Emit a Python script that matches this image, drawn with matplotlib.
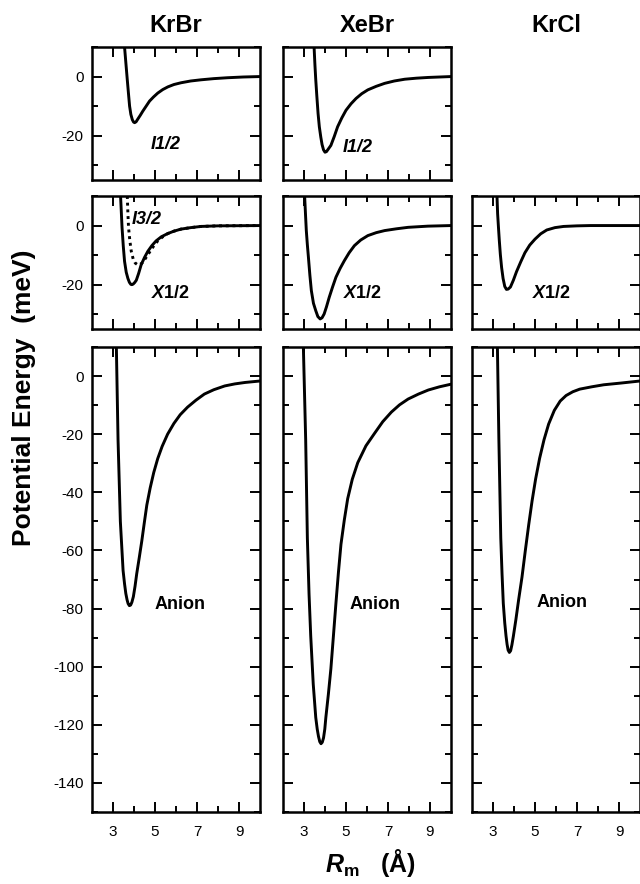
import numpy as np
import matplotlib.pyplot as plt
from matplotlib.ticker import MultipleLocator, FixedLocator

plt.rcParams['font.family'] = ['Liberation Sans', 'DejaVu Sans']
plt.rcParams['axes.unicode_minus'] = False
plt.rcParams['mathtext.fontset'] = 'custom'
plt.rcParams['mathtext.it'] = 'Liberation Sans:italic:bold'
plt.rcParams['mathtext.rm'] = 'Liberation Sans:bold'

# potential curves: R in Angstrom, V in meV
krbr_i12_r = [3.55, 3.62, 3.68, 3.74, 3.79, 3.85, 3.92, 3.98, 4.03, 4.10, 4.18, 4.30, 4.42, 4.58,
              4.74, 4.93, 5.13, 5.37, 5.61, 5.90, 6.24, 6.70, 7.19, 7.80, 8.45, 9.20, 10.0]
krbr_i12_v = [10.0, 4.0, -1.1, -6.0, -10.0, -12.8, -14.6, -15.4, -15.6, -15.3, -14.4, -13.1, -11.7, -10.0,
              -8.3, -6.9, -5.6, -4.4, -3.5, -2.7, -2.1, -1.5, -1.1, -0.7, -0.4, -0.15, 0.0]

xebr_i12_r = [3.48, 3.52, 3.56, 3.61, 3.67, 3.73, 3.80, 3.86, 3.93, 4.00, 4.07, 4.15, 4.28, 4.44,
              4.60, 4.80, 5.00, 5.24, 5.48, 5.75, 6.04, 6.44, 6.84, 7.30, 7.80, 8.35, 8.92, 10.0]
xebr_i12_v = [10.0, 4.0, -1.1, -6.5, -12.5, -17.0, -20.5, -23.0, -24.8, -25.6, -25.4, -24.6, -23.3, -20.3,
              -17.0, -14.0, -11.4, -9.2, -7.4, -5.8, -4.5, -3.3, -2.3, -1.5, -0.9, -0.55, -0.3, 0.0]

krbr_x12_r = [3.36, 3.40, 3.43, 3.49, 3.55, 3.63, 3.71, 3.78, 3.85, 3.90, 3.96, 4.03, 4.11, 4.22,
              4.34, 4.50, 4.66, 4.85, 5.05, 5.30, 5.61, 5.90, 6.24, 6.70, 7.19, 8.00, 10.0]
krbr_x12_v = [10.0, 4.0, -0.6, -7.0, -12.1, -15.8, -17.9, -19.2, -19.9, -20.0, -19.8, -19.3, -18.5, -16.2,
              -13.3, -10.8, -8.7, -6.8, -5.2, -3.8, -2.7, -1.9, -1.2, -0.7, -0.3, -0.1, 0.0]

krbr_i32_r = [3.68, 3.71, 3.74, 3.80, 3.87, 3.96, 4.06, 4.16, 4.26, 4.38, 4.50, 4.66, 4.82, 4.97,
              5.13, 5.35, 5.61, 5.90, 6.24, 6.70, 7.19, 8.00, 10.0]
krbr_i32_v = [10.0, 4.0, -0.6, -5.0, -8.7, -11.3, -12.7, -13.2, -13.3, -12.7, -11.6, -9.9, -8.1, -6.6,
              -5.2, -3.9, -2.7, -1.9, -1.2, -0.7, -0.3, -0.1, 0.0]

xebr_x12_r = [3.03, 3.07, 3.11, 3.16, 3.21, 3.28, 3.35, 3.45, 3.56, 3.66, 3.77, 3.86, 3.96, 4.07,
              4.20, 4.36, 4.52, 4.72, 4.92, 5.15, 5.40, 5.70, 6.04, 6.44, 6.84, 7.40, 7.96, 8.90, 10.0]
xebr_x12_v = [10.0, 4.0, -1.7, -6.5, -10.7, -16.8, -22.0, -26.3, -28.8, -30.8, -31.6, -31.2, -29.9, -27.5,
              -24.3, -20.8, -17.5, -14.5, -11.9, -9.2, -6.8, -4.9, -3.4, -2.4, -1.7, -1.1, -0.6, -0.2, 0.0]

krcl_x12_r = [3.19, 3.22, 3.26, 3.30, 3.35, 3.41, 3.48, 3.56, 3.64, 3.72, 3.83, 3.97, 4.12, 4.32,
              4.52, 4.75, 5.00, 5.27, 5.56, 5.95, 6.36, 7.00, 7.64, 10.0]
krcl_x12_v = [10.0, 4.0, -0.6, -5.0, -9.8, -14.2, -17.9, -20.6, -21.6, -21.5, -20.8, -18.5, -15.6, -12.3,
              -9.2, -6.6, -4.6, -2.8, -1.5, -0.7, -0.3, -0.1, 0.0, 0.0]

krbr_an_r = [3.16, 3.24, 3.35, 3.48, 3.55, 3.61, 3.67, 3.72, 3.78, 3.84, 3.90, 3.97, 4.05, 4.13,
             4.25, 4.37, 4.49, 4.61, 4.77, 4.94, 5.13, 5.34, 5.60, 5.90, 6.20, 6.55, 6.95, 7.35,
             7.80, 8.32, 8.80, 9.29, 10.0]
krbr_an_v = [10.0, -21.9, -50.0, -66.9, -71.5, -74.8, -77.0, -78.3, -79.0, -78.8, -77.8, -75.9, -72.3, -68.0,
             -62.5, -56.8, -50.5, -44.4, -38.5, -33.2, -28.4, -24.2, -20.0, -16.3, -13.3, -10.7, -8.3, -6.2,
             -4.7, -3.4, -2.7, -2.2, -1.7]

xebr_an_r = [2.97, 3.08, 3.16, 3.24, 3.32, 3.44, 3.56, 3.63, 3.69, 3.75, 3.81, 3.87, 3.93, 3.99,
             4.04, 4.16, 4.28, 4.40, 4.52, 4.64, 4.76, 4.92, 5.08, 5.30, 5.56, 5.95, 6.36, 6.75,
             7.16, 7.55, 7.96, 8.45, 8.92, 9.45, 10.0]
xebr_an_v = [10.0, -21.9, -55.7, -75.0, -89.4, -106.0, -117.5, -121.5, -124.0, -125.8, -126.5, -126.0, -124.5, -121.5,
             -117.5, -109.5, -100.7, -89.5, -78.2, -67.5, -57.9, -49.5, -42.2, -35.5, -29.8, -24.0, -19.7, -15.7,
             -12.4, -9.9, -7.9, -6.2, -4.8, -3.7, -2.8]

krcl_an_r = [3.21, 3.28, 3.37, 3.43, 3.49, 3.56, 3.62, 3.67, 3.72, 3.78, 3.84, 3.90, 3.97, 4.09,
             4.22, 4.38, 4.54, 4.70, 4.86, 5.03, 5.22, 5.43, 5.65, 5.92, 6.20, 6.48, 6.80, 7.13,
             7.70, 8.27, 9.10, 10.0]
krcl_an_v = [10.0, -21.9, -55.7, -68.0, -78.2, -85.0, -89.4, -92.3, -94.3, -95.1, -94.5, -92.5, -89.5, -83.8,
             -77.0, -69.2, -60.0, -51.2, -43.0, -35.4, -28.3, -21.9, -16.5, -11.8, -8.6, -6.7, -5.4, -4.5,
             -3.7, -3.0, -2.4, -1.7]

molecules = ['KrBr', 'XeBr', 'KrCl']

W, H = 640, 884
fig = plt.figure(figsize=(W / 100, H / 100), dpi=100)

col_left = [92, 283, 472]
col_width = 168
rows = [(47, 180), (196, 329), (347, 812)]
ylims = [(-35, 10), (-35, 10), (-150, 10)]


def make_ax(row, col):
    top, bot = rows[row]
    ax = fig.add_axes([col_left[col] / W, 1 - bot / H, col_width / W, (bot - top) / H])
    ax.set_xlim(2, 10)
    ax.set_ylim(*ylims[row])
    ax.xaxis.set_major_locator(FixedLocator([3, 5, 7, 9]))
    ax.xaxis.set_minor_locator(FixedLocator([4, 6, 8]))
    ax.yaxis.set_major_locator(MultipleLocator(20))
    ax.yaxis.set_minor_locator(MultipleLocator(10))
    ax.tick_params(which='both', direction='in', top=True, right=True,
                   width=1.4, labelsize=11, colors='black')
    ax.tick_params(which='major', length=7)
    ax.tick_params(which='minor', length=4.5)
    ax.tick_params(axis='y', pad=6)
    ax.tick_params(axis='x', pad=9)
    for s in ax.spines.values():
        s.set_linewidth(1.8)
    ax.tick_params(labelleft=(col == 0), labelbottom=(row == 2))
    return ax


lw = 2.1
lab = dict(fontsize=13, fontweight='bold')

# top row: I1/2
ax = make_ax(0, 0)
ax.plot(krbr_i12_r, krbr_i12_v, color='black', lw=lw)
ax.text(4.8, -23, 'I1/2', style='italic', va='center', **lab)

ax = make_ax(0, 1)
ax.plot(xebr_i12_r, xebr_i12_v, color='black', lw=lw)
ax.text(4.85, -24, 'I1/2', style='italic', va='center', **lab)

# middle row: X1/2 (and I3/2 for KrBr)
ax = make_ax(1, 0)
ax.plot(krbr_x12_r, krbr_x12_v, color='black', lw=lw)
ax.plot(krbr_i32_r, krbr_i32_v, color='black', lw=lw, ls=(0, (1, 1.3)))
ax.text(3.9, 2, 'I3/2', style='italic', va='center', **lab)
ax.text(4.8, -23, r'$X$1/2', va='center', **lab)

ax = make_ax(1, 1)
ax.plot(xebr_x12_r, xebr_x12_v, color='black', lw=lw)
ax.text(4.85, -23, r'$X$1/2', va='center', **lab)

ax = make_ax(1, 2)
ax.plot(krcl_x12_r, krcl_x12_v, color='black', lw=lw)
ax.text(4.85, -23, r'$X$1/2', va='center', **lab)

# bottom row: anion
ax = make_ax(2, 0)
ax.plot(krbr_an_r, krbr_an_v, color='black', lw=lw)
ax.text(5.0, -78.5, 'Anion', va='center', **lab)

ax = make_ax(2, 1)
ax.plot(xebr_an_r, xebr_an_v, color='black', lw=lw)
ax.text(5.15, -78.5, 'Anion', va='center', **lab)

ax = make_ax(2, 2)
ax.plot(krcl_an_r, krcl_an_v, color='black', lw=lw)
ax.text(5.05, -78, 'Anion', va='center', **lab)

# column titles
for c, name in enumerate(molecules):
    fig.text((col_left[c] + col_width / 2) / W, 1 - 25 / H, name,
             ha='center', va='center', fontsize=17, fontweight='bold')

fig.text(24 / W, 1 - 398 / H, 'Potential Energy  (meV)', rotation=90,
         ha='center', va='center', fontsize=19, fontweight='bold')

fig.text(370 / W, 1 - 872 / H, r'$R_{\mathrm{m}}$   (Å)', ha='center', va='baseline',
         fontsize=18, fontweight='bold')

fig.savefig('out.png', dpi=100)
